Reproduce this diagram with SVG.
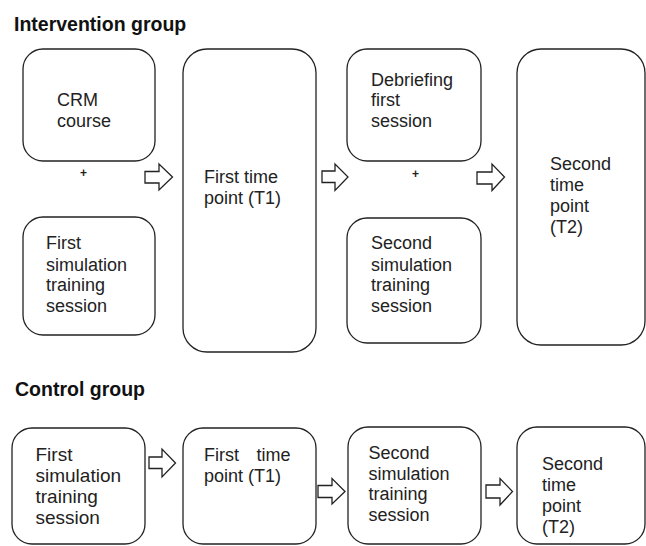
<svg xmlns="http://www.w3.org/2000/svg" width="646" height="546" viewBox="0 0 646 546">
<style>
.box{fill:#fff;stroke:#222;stroke-width:1.3}
.arr{fill:#fff;stroke:#222;stroke-width:1.3;stroke-linejoin:miter}
.t{font-family:"Liberation Sans",Arial,sans-serif;font-size:18px;fill:#222}
.tc{font-family:"Liberation Sans",Arial,sans-serif;font-size:19px;fill:#222}
.h{font-family:"Liberation Sans",Arial,sans-serif;font-size:19.5px;font-weight:bold;fill:#111}
.p{font-family:"Liberation Sans",Arial,sans-serif;font-size:12px;font-weight:bold;fill:#222}
</style>
<rect width="646" height="546" fill="#fff"/>
<text class="h" x="14" y="31">Intervention group</text>
<text class="h" x="15" y="396">Control group</text>

<g id="crm">
<rect class="box" x="23" y="49" width="132" height="112" rx="20"/>
<text class="t" x="57" y="106">CRM</text>
<text class="t" x="57" y="127">course</text>
</g>
<text class="p" x="80" y="177">+</text>
<g id="sim1">
<rect class="box" x="23" y="217" width="132" height="118" rx="20"/>
<text class="t" x="46" y="249">First</text>
<text class="t" x="46" y="270.5">simulation</text>
<text class="t" x="46" y="291">training</text>
<text class="t" x="46" y="311.5">session</text>
</g>
<g id="t1">
<rect class="box" x="183" y="49" width="133" height="303" rx="24"/>
<text class="t" x="204" y="183">First time</text>
<text class="t" x="204" y="204">point (T1)</text>
</g>
<g id="debrief">
<rect class="box" x="347" y="49" width="134" height="112" rx="20"/>
<text class="t" x="371" y="85.5">Debriefing</text>
<text class="t" x="371" y="106">first</text>
<text class="t" x="371" y="127">session</text>
</g>
<text class="p" x="412" y="178">+</text>
<g id="sim2">
<rect class="box" x="347" y="218" width="134" height="125" rx="20"/>
<text class="t" x="371" y="249">Second</text>
<text class="t" x="371" y="270.5">simulation</text>
<text class="t" x="371" y="291">training</text>
<text class="t" x="371" y="311.5">session</text>
</g>
<g id="t2">
<rect class="box" x="517" y="49" width="128" height="296" rx="24"/>
<text class="t" x="550" y="170">Second</text>
<text class="t" x="550" y="191">time</text>
<text class="t" x="550" y="212">point</text>
<text class="t" x="550" y="233">(T2)</text>
</g>

<g id="c-sim1">
<rect class="box" x="12" y="428" width="133" height="116" rx="20"/>
<text class="tc" x="35.5" y="460.5">First</text>
<text class="tc" x="35.5" y="481.5">simulation</text>
<text class="tc" x="35.5" y="502.5">training</text>
<text class="tc" x="35.5" y="523.5">session</text>
</g>
<g id="c-t1">
<rect class="box" x="183" y="428" width="133" height="116" rx="20"/>
<text class="t" x="204" y="460.5">First</text>
<text class="t" x="256.5" y="460.5">time</text>
<text class="t" x="204" y="481.5">point (T1)</text>
</g>
<g id="c-sim2">
<rect class="box" x="348" y="427" width="133" height="117" rx="20"/>
<text class="t" x="368.5" y="458.5">Second</text>
<text class="t" x="368.5" y="479.5">simulation</text>
<text class="t" x="368.5" y="500">training</text>
<text class="t" x="368.5" y="520.5">session</text>
</g>
<g id="c-t2">
<rect class="box" x="517" y="427" width="128" height="117" rx="20"/>
<text class="t" x="542" y="470">Second</text>
<text class="t" x="542" y="491">time</text>
<text class="t" x="542" y="512">point</text>
<text class="t" x="542" y="533">(T2)</text>
</g>

<g id="connectors">
<polygon class="arr" points="145,171.5 159,171.5 159,164 172.5,177 159,190 159,183 145,183"/>
<polygon class="arr" points="322,171 335,171 335,164 348,177 335,190.5 335,182.5 322,182.5"/>
<polygon class="arr" points="477,172 492,172 492,164 504.5,177 492,190.5 492,184 477,184"/>
<polygon class="arr" points="149,457 162,457 162,449 175.5,463 162,477 162,468.5 149,468.5"/>
<polygon class="arr" points="318,485.5 332,485.5 332,478.5 345,491.5 332,504 332,497.5 318,497.5"/>
<polygon class="arr" points="486,485 500,485 500,478.5 512.5,491.5 500,505 500,498 486,498"/>
</g>
</svg>
